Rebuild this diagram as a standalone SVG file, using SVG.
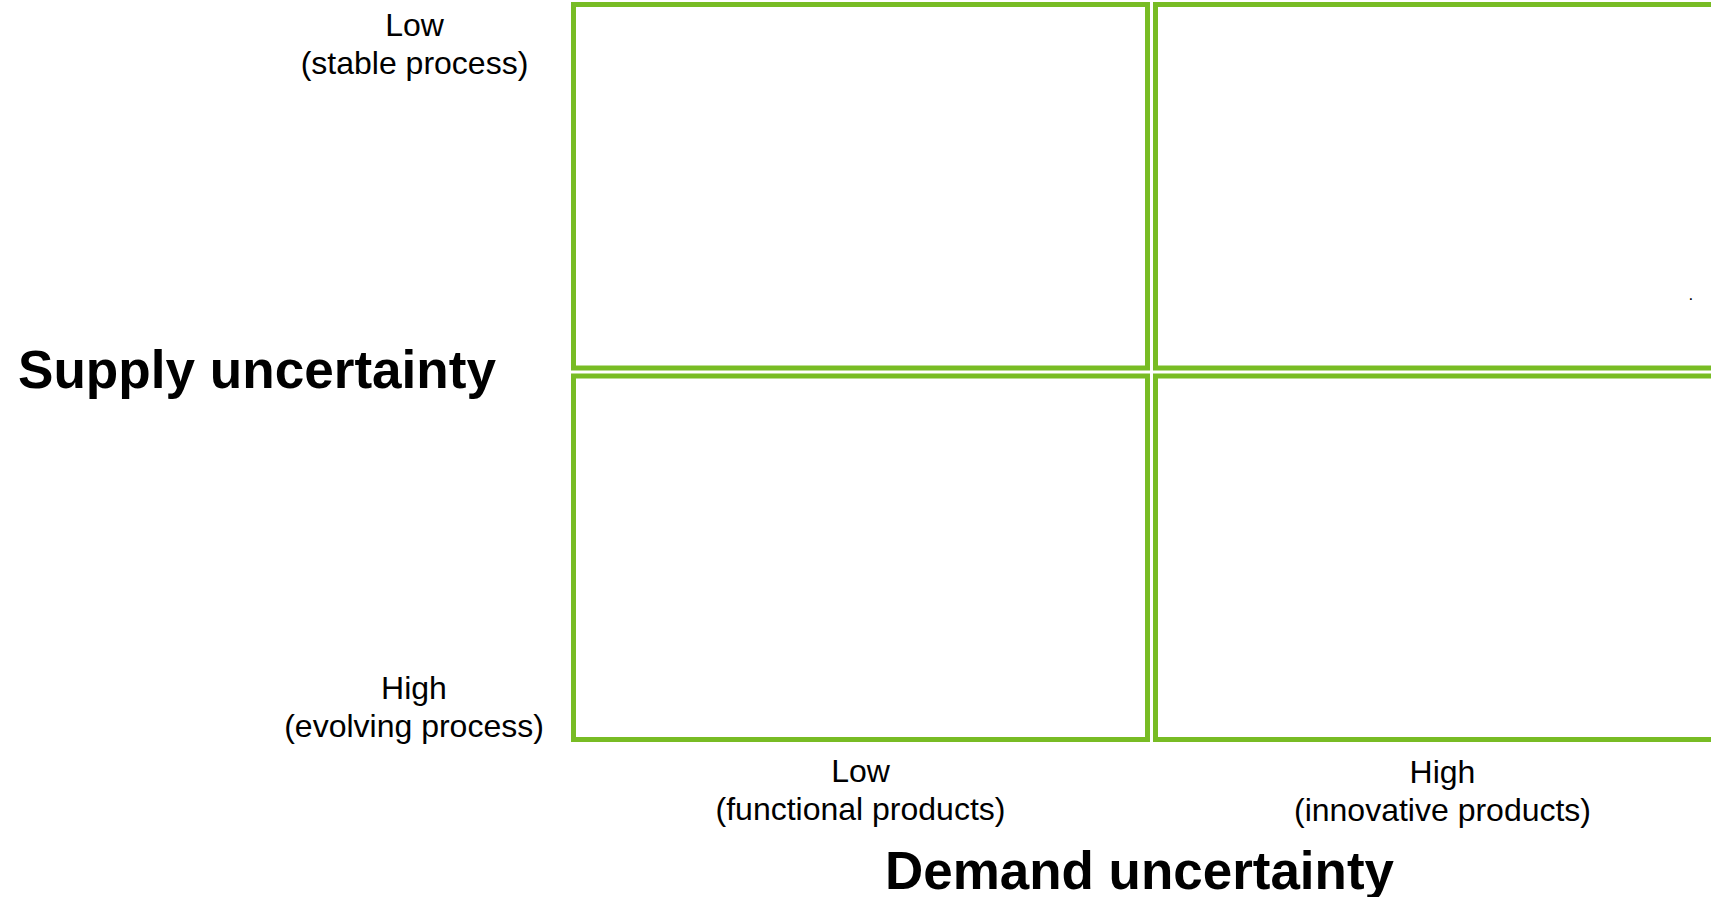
<svg xmlns="http://www.w3.org/2000/svg" width="1711" height="897" viewBox="0 0 1711 897">
  <style>
    .cell { fill: #ffffff; stroke: #78bc24; stroke-width: 5; }
    .lbl { font-family: "Liberation Sans", Arial, sans-serif; font-size: 32px; fill: #000000; text-anchor: middle; }
    .axis { font-family: "Liberation Sans", Arial, sans-serif; font-size: 53px; font-weight: bold; fill: #000000; }
  </style>
  <rect width="1711" height="897" fill="#ffffff"/>

  <!-- 2x2 matrix cells -->
  <g id="cell-low-supply-low-demand">
    <rect class="cell" x="573.5" y="4.5" width="574" height="363.5"/>
  </g>
  <g id="cell-low-supply-high-demand">
    <rect class="cell" x="1155.5" y="4.5" width="580" height="363.5"/>
    <text x="1688.5" y="299.5" font-family="Liberation Sans, Arial, sans-serif" font-size="17">.</text>
  </g>
  <g id="cell-high-supply-low-demand">
    <rect class="cell" x="573.5" y="376" width="574" height="363.5"/>
  </g>
  <g id="cell-high-supply-high-demand">
    <rect class="cell" x="1155.5" y="376" width="580" height="363.5"/>
  </g>

  <!-- no connectors in this matrix -->
  <g id="connectors"/>

  <!-- supply axis -->
  <g id="supply-axis">
    <text class="axis" x="18" y="388" textLength="478" lengthAdjust="spacingAndGlyphs">Supply uncertainty</text>
    <text class="lbl" x="414.5" y="36">Low</text>
    <text class="lbl" x="414.5" y="74">(stable process)</text>
    <text class="lbl" x="414" y="699">High</text>
    <text class="lbl" x="414" y="737">(evolving process)</text>
  </g>

  <!-- demand axis -->
  <g id="demand-axis">
    <text class="lbl" x="860.5" y="782">Low</text>
    <text class="lbl" x="860.5" y="820">(functional products)</text>
    <text class="lbl" x="1442.5" y="783">High</text>
    <text class="lbl" x="1442.5" y="821">(innovative products)</text>
    <text class="axis" x="885" y="889" textLength="509" lengthAdjust="spacingAndGlyphs">Demand uncertainty</text>
  </g>
</svg>
